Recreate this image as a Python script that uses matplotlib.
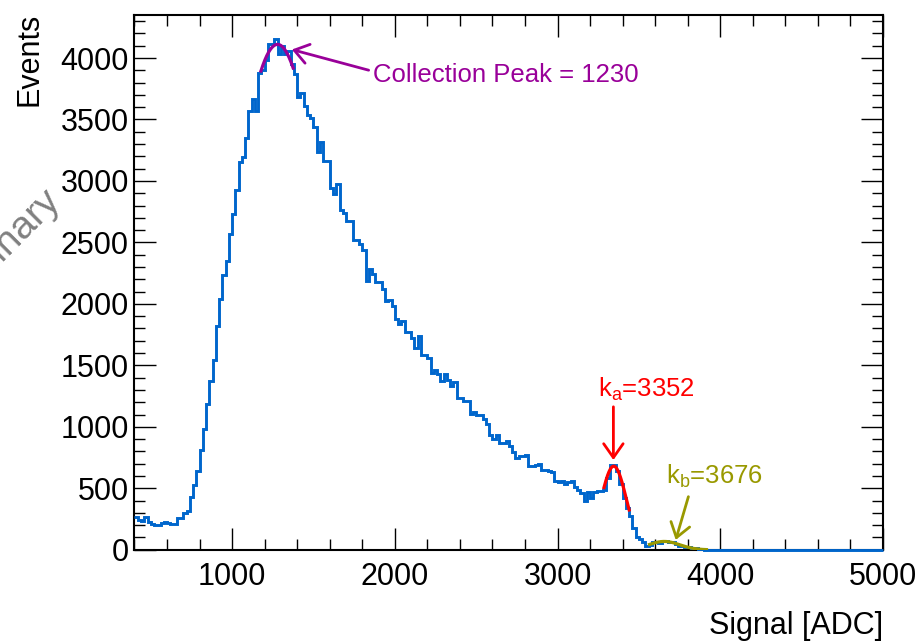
import numpy as np
import matplotlib.pyplot as plt
from matplotlib.ticker import MultipleLocator

plt.rcParams['font.family'] = ['Liberation Sans', 'DejaVu Sans']
plt.rcParams['mathtext.fontset'] = 'custom'
plt.rcParams['mathtext.rm'] = 'Liberation Sans'

# histogram: 20 ADC bins from 400 to 5000
bin_lo, bin_hi, bin_w = 400, 5000, 20
counts = [
    263, 240, 236, 270, 222, 210, 205, 200, 215, 222,
    215, 208, 208, 255, 255, 298, 315, 428, 528, 637,
    810, 984, 1184, 1374, 1542, 1821, 2038, 2233, 2350, 2566,
    2729, 2930, 3154, 3198, 3347, 3569, 3664, 3569, 3881, 3900,
    3981, 4111, 4111, 4155, 4030, 4098, 4030, 4060, 3949, 3867,
    3683, 3718, 3610, 3537, 3515, 3439, 3238, 3317, 3163, 3163,
    2946, 2892, 2973, 2764, 2743, 2675, 2675, 2518, 2518, 2485,
    2436, 2187, 2282, 2241, 2182, 2182, 2119, 2024, 2030, 1984,
    1875, 1835, 1862, 1775, 1775, 1721, 1640, 1740, 1585, 1585,
    1558, 1442, 1460, 1433, 1374, 1428, 1382, 1333, 1368, 1238,
    1238, 1211, 1211, 1103, 1117, 1098, 1098, 1062, 1027, 935,
    900, 935, 867, 867, 881, 846, 792, 745, 764, 764,
    772, 683, 683, 691, 696, 648, 648, 637, 629, 560,
    548, 561, 534, 548, 561, 512, 485, 458, 398, 466,
    425, 474, 480, 480, 490, 580, 691, 691, 642, 534,
    425, 338, 276, 181, 106, 87, 60, 33, 38, 60,
    60, 52, 68, 68, 60, 60, 46, 33, 33, 19,
    19, 11, 11, 3, 3,
] + [0] * 55

# gaussian fits: amplitude, mean, sigma, x from, x to
coll_fit = [4111, 1279, 310, 1177, 1375]
ka_fit = [680, 3345, 78, 3285, 3440]
kb_fit = [68, 3655, 95, 3565, 3915]

blue = '#0066cc'
purple = '#990099'
olive = '#999900'


def gaus(p):
    x = np.linspace(p[3], p[4], 200)
    return x, p[0] * np.exp(-0.5 * ((x - p[1]) / p[2]) ** 2)


fig = plt.figure(figsize=(9.18, 6.41), dpi=100)
ax = fig.add_axes([0.1465, 0.1423, 0.8154, 0.8343])

edges = np.arange(bin_lo, bin_hi + bin_w, bin_w)
ax.stairs(counts, edges, color=blue, lw=2.1, baseline=None, zorder=3, clip_on=False)

for p, c in [(coll_fit, purple), (ka_fit, 'red'), (kb_fit, olive)]:
    x, y = gaus(p)
    ax.plot(x, y, color=c, lw=2.3, zorder=4)

ax.set_xlim(bin_lo, bin_hi)
ax.set_ylim(0, 4350)
ax.xaxis.set_major_locator(MultipleLocator(1000))
ax.xaxis.set_minor_locator(MultipleLocator(200))
ax.yaxis.set_major_locator(MultipleLocator(500))
ax.yaxis.set_minor_locator(MultipleLocator(100))
ax.tick_params(which='both', direction='in', top=True, right=True, width=1, labelsize=22)
ax.tick_params(which='major', length=16)
ax.tick_params(which='minor', length=8)
ax.tick_params(axis='x', pad=9)
ax.tick_params(axis='y', pad=4)
for s in ax.spines.values():
    s.set_linewidth(1.5)

fig.text(883 / 918, 1 - 626 / 641, 'Signal [ADC]', ha='right', va='center', fontsize=22)
fig.text(29 / 918, 1 - 13 / 641, 'Events', rotation=90, ha='center', va='top', fontsize=22)

arrow = '->,head_length=0.5,head_width=0.35'
ax.annotate('', xy=(1367, 4069), xytext=(1839, 3901),
            arrowprops=dict(arrowstyle=arrow, color=purple, lw=2, mutation_scale=20,
                            shrinkA=0, shrinkB=0))
ax.text(1868, 3860, 'Collection Peak = 1230', color=purple, fontsize=18.5,
        ha='left', va='center')

ax.annotate('', xy=(3343, 730), xytext=(3343, 1163),
            arrowprops=dict(arrowstyle=arrow, color='red', lw=2, mutation_scale=20,
                            shrinkA=0, shrinkB=0))
ax.text(3246, 1245, r'k$_{\mathrm{a}}$=3352', color='red', fontsize=18.5,
        ha='left', va='baseline')

ax.annotate('', xy=(3726, 80), xytext=(3804, 432),
            arrowprops=dict(arrowstyle=arrow, color=olive, lw=2, mutation_scale=20,
                            shrinkA=0, shrinkB=0))
ax.text(3665, 540, r'k$_{\mathrm{b}}$=3676', color=olive, fontsize=18.5,
        ha='left', va='baseline')

fig.text(62 / 918, 1 - 201 / 641, 'Preliminary', rotation=45, rotation_mode='anchor',
         ha='right', va='baseline', fontsize=28, color='#808080')

fig.savefig('out.png', dpi=100)
